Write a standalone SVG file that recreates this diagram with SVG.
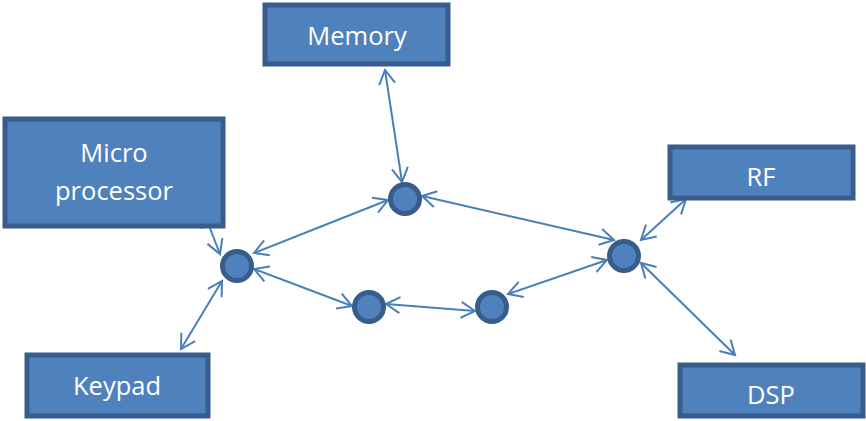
<svg xmlns="http://www.w3.org/2000/svg" width="866" height="421" viewBox="0 0 866 421">
  <style>
    .box { fill: #4f81bd; stroke: #385d8a; stroke-width: 5; }
    .hub { fill: #4f81bd; stroke: #385d8a; stroke-width: 5; }
    .label { fill: #ffffff; font-family: "Open Sans", "Liberation Sans", sans-serif; font-size: 25.5px; text-anchor: middle; }
    .link { stroke: #4a7ebb; stroke-width: 2; fill: none; marker-start: url(#tip); marker-end: url(#tip); }
  </style>
  <defs>
    <marker id="tip" viewBox="0 0 20 20" refX="17" refY="10" markerWidth="20" markerHeight="20" markerUnits="userSpaceOnUse" orient="auto-start-reverse">
      <path d="M3,2 L17,10 L3,18" fill="none" stroke="#4a7ebb" stroke-width="2"/>
    </marker>
  </defs>

  <!-- links between blocks and bus junctions -->
  <g id="connectors">
    <line class="link" x1="385" y1="70" x2="402" y2="182"/>
    <line class="link" x1="204" y1="213" x2="220" y2="254"/>
    <line class="link" x1="222" y1="281" x2="181" y2="349"/>
    <line class="link" x1="254" y1="253" x2="388" y2="200"/>
    <line class="link" x1="254" y1="269" x2="352" y2="306"/>
    <line class="link" x1="386" y1="304" x2="475" y2="311"/>
    <line class="link" x1="508" y1="294" x2="607" y2="260"/>
    <line class="link" x1="422" y1="196" x2="614" y2="240"/>
    <line class="link" x1="686" y1="199" x2="641" y2="240"/>
    <line class="link" x1="641" y1="263" x2="735" y2="355"/>
  </g>

  <g id="memory">
    <rect class="box" x="265" y="5" width="183" height="59"/>
    <text class="label" x="357" y="45">Memory</text>
  </g>
  <g id="microprocessor">
    <rect class="box" x="5" y="119" width="218" height="107"/>
    <text class="label" x="114" y="162">Micro</text>
    <text class="label" x="114" y="200">processor</text>
  </g>
  <g id="rf">
    <rect class="box" x="670" y="147" width="183" height="51"/>
    <text class="label" x="761" y="186">RF</text>
  </g>
  <g id="keypad">
    <rect class="box" x="27" y="355" width="181" height="61"/>
    <text class="label" x="117" y="395">Keypad</text>
  </g>
  <g id="dsp">
    <rect class="box" x="680" y="365" width="183" height="51"/>
    <text class="label" x="771" y="404">DSP</text>
  </g>

  <g id="hub-left"><circle class="hub" cx="237" cy="266" r="14.5"/></g>
  <g id="hub-top"><circle class="hub" cx="405" cy="199" r="14.5"/></g>
  <g id="hub-bottom-left"><circle class="hub" cx="369" cy="307" r="14.5"/></g>
  <g id="hub-bottom-right"><circle class="hub" cx="492" cy="307" r="14.5"/></g>
  <g id="hub-right"><circle class="hub" cx="624" cy="256" r="14.5"/></g>
</svg>
